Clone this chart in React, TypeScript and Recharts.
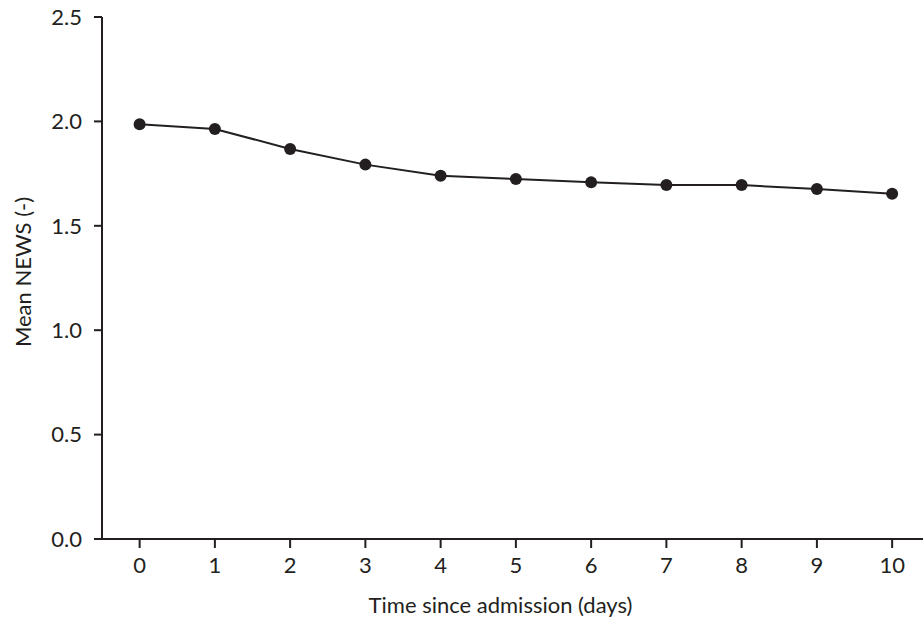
import React from "react";
import { LineChart, Line, XAxis, YAxis } from "recharts";

// mean NEWS per day since admission
const days = [0, 1, 2, 3, 4, 5, 6, 7, 8, 9, 10];
const meanNews = [1.986, 1.964, 1.868, 1.793, 1.74, 1.724, 1.708, 1.695, 1.695, 1.676, 1.654];
const yTicks = [0, 0.5, 1, 1.5, 2, 2.5];

const data = days.map((d, i) => ({ day: d, news: meanNews[i] }));

const INK = "#231f20";
const FONT = "Lato, 'Open Sans', sans-serif";
const FS = 22;
const tickStyle = { fontSize: FS, fill: INK, fontFamily: FONT };

function YTitle({ viewBox }: any) {
  const cx = 22;
  const cy = viewBox.y + viewBox.height / 2 - 6;
  return (
    <text
      x={cx}
      y={cy}
      transform={`rotate(-90, ${cx}, ${cy})`}
      textAnchor="middle"
      dominantBaseline="central"
      fontSize={FS}
      fontFamily={FONT}
      fill={INK}
    >
      Mean NEWS (-)
    </text>
  );
}

function XTitle({ viewBox }: any) {
  return (
    <text
      x={viewBox.x + viewBox.width / 2 - 12}
      y={viewBox.y + 74}
      textAnchor="middle"
      fontSize={FS}
      fontFamily={FONT}
      fill={INK}
    >
      Time since admission (days)
    </text>
  );
}

export default function App() {
  return (
    <div style={{ position: "absolute", left: 0, top: 0, width: 923, height: 619, background: "#fff" }}>
      <LineChart width={923} height={619} data={data} margin={{ top: 17, right: 0, bottom: 0, left: 0 }}>
        <XAxis
          dataKey="day"
          type="number"
          domain={[-0.5, 10.41]}
          allowDataOverflow
          ticks={days}
          interval={0}
          height={80}
          tick={tickStyle}
          tickSize={9}
          tickMargin={9}
          axisLine={{ stroke: INK, strokeWidth: 2 }}
          tickLine={{ stroke: INK, strokeWidth: 2 }}
          label={<XTitle />}
        />
        <YAxis
          type="number"
          domain={[0, 2.5]}
          ticks={yTicks}
          interval={0}
          width={102}
          tick={tickStyle}
          tickFormatter={(v: number) => v.toFixed(1)}
          tickSize={8}
          tickMargin={12}
          axisLine={{ stroke: INK, strokeWidth: 2 }}
          tickLine={{ stroke: INK, strokeWidth: 2 }}
          label={<YTitle />}
        />
        <Line
          dataKey="news"
          stroke={INK}
          strokeWidth={2}
          dot={{ r: 6, fill: INK, stroke: INK, strokeWidth: 0 }}
          isAnimationActive={false}
        />
      </LineChart>
    </div>
  );
}
